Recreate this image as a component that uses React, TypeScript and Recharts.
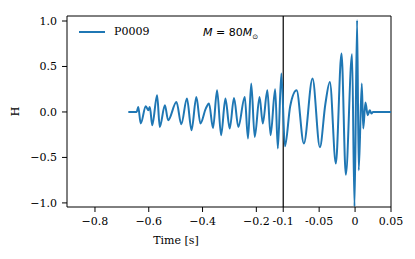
import React from 'react';
import { LineChart, Line, XAxis, YAxis, ReferenceLine, Label } from 'recharts';

// waveform (time in s, strain H)
const times = [
  -0.676, -0.645, -0.639, -0.63, -0.611, -0.602, -0.596, -0.587, -0.569, -0.559,
  -0.54, -0.528, -0.497, -0.479, -0.458, -0.441, -0.423, -0.408, -0.388, -0.376,
  -0.361, -0.346, -0.331, -0.315, -0.299, -0.283, -0.267, -0.243, -0.231, -0.219,
  -0.206, -0.188, -0.176, -0.159, -0.147, -0.13, -0.12, -0.107, -0.0976, -0.0903,
  -0.0814, -0.0713, -0.0592, -0.049, -0.0414, -0.0351, -0.0268, -0.0189, -0.0129, -0.0042,
  -0.0008, 0.0028, 0.0051, 0.0093, 0.0114, 0.0144, 0.0176, 0.0204, 0.0228, 0.025,
  0.05,
];
const strain = [
  0, 0, 0.055, -0.127, 0.063, 0.019, 0.055, -0.146, 0.184, -0.165,
  0.074, -0.091, 0.11, -0.135, 0.147, -0.201, 0.165, -0.127, 0.037, 0.092,
  -0.176, 0.238, -0.256, 0.147, -0.182, 0.154, -0.165, 0.165, -0.292, 0.312,
  -0.275, 0.165, -0.127, 0.238, -0.256, 0.249, -0.402, 0.422, -0.377, 0.063,
  0.238, -0.347, 0.367, -0.388, 0.085, 0.33, -0.567, 0.642, -0.69, 0.634,
  -1.04, 1.008, -0.641, 0.312, -0.182, 0.103, -0.036, 0.019, -0.018, 0,
  0,
];

const xTicks = [-0.8, -0.6, -0.4, -0.2, -0.1, -0.05, 0, 0.05];
const xTickLabels = ['\u22120.8', '\u22120.6', '\u22120.4', '\u22120.2', '-0.1', '-0.05', '0', '0.05'];
const yTicks = [-1, -0.5, 0, 0.5, 1];
const yTickLabels = ['\u22121.0', '\u22120.5', '0.0', '0.5', '1.0'];

// axis is stretched after t = -0.1
const BREAK = -0.1;
const STRETCH = 2.6716;
const warp = (t: number) => (t <= BREAK ? t : BREAK + (t - BREAK) * STRETCH);

const X_MIN = -0.904;
const X_MAX = warp(0.05);
const Y_MIN = -1.045;
const Y_MAX = 1.055;

const data = times.map((t, i) => ({ u: warp(t), h: strain[i] }));

const serif = "'DejaVu Serif', serif";

const XTick = ({ x, y, payload }: any) => {
  const i = xTicks.findIndex((t) => Math.abs(warp(t) - payload.value) < 1e-6);
  return (
    <text x={x} y={y} dy="0.71em" textAnchor="middle" style={{ fontFamily: serif, fontSize: 11 }} fill="#000">
      {i >= 0 ? xTickLabels[i] : ''}
    </text>
  );
};

const YTick = ({ x, y, payload }: any) => (
  <text x={x} y={y} dy="0.355em" textAnchor="end" style={{ fontFamily: serif, fontSize: 11 }} fill="#000">
    {yTickLabels[yTicks.indexOf(payload.value)]}
  </text>
);

export default function App() {
  return (
    <div style={{ position: 'relative', width: 407, height: 251, fontFamily: serif }}>
      <LineChart width={407} height={251} data={data} margin={{ top: 8, right: 24, left: 0, bottom: 22 }}>
        <XAxis
          dataKey="u"
          type="number"
          domain={[X_MIN, X_MAX]}
          allowDataOverflow
          ticks={xTicks.map(warp)}
          height={30}
          tickSize={5}
          tickMargin={5}
          stroke="#000"
          tick={<XTick />}
          interval={0}
        >
          <Label
            value="Time [s]"
            position="bottom"
            offset={-1}
            dx={-53}
            style={{ fontFamily: serif, fontSize: 11, fill: '#000' }}
          />
        </XAxis>
        <YAxis
          type="number"
          domain={[Y_MIN, Y_MAX]}
          allowDataOverflow
          ticks={yTicks}
          width={59}
          tickSize={5}
          tickMargin={5}
          stroke="#000"
          tick={<YTick />}
          interval={0}
        >
          <Label
            value="H"
            angle={-90}
            position="insideLeft"
            offset={7}
            style={{ fontFamily: serif, fontSize: 11, fill: '#000', textAnchor: 'middle' }}
          />
        </YAxis>
        <ReferenceLine y={Y_MAX} stroke="#000" ifOverflow="visible" />
        <ReferenceLine x={X_MAX} stroke="#000" ifOverflow="visible" />
        <ReferenceLine x={BREAK} stroke="#000" strokeWidth={1.2} />
        <Line
          type="monotone"
          dataKey="h"
          stroke="#1f77b4"
          strokeWidth={2}
          dot={false}
          isAnimationActive={false}
        />
      </LineChart>
      <div style={{ position: 'absolute', left: 71, top: 17, display: 'flex', alignItems: 'center' }}>
        <div style={{ width: 26, height: 2, background: '#1f77b4', marginRight: 9 }} />
        <span style={{ fontFamily: serif, fontSize: 11 }}>P0009</span>
      </div>
      <div
        style={{
          position: 'absolute',
          left: 195,
          top: 18,
          fontFamily: "'DejaVu Sans', sans-serif",
          fontSize: 11,
          whiteSpace: 'nowrap',
        }}
      >
        <i>M</i> = 80<i>M</i>
        <sub style={{ fontSize: 7 }}>{'\u2299'}</sub>
      </div>
    </div>
  );
}
